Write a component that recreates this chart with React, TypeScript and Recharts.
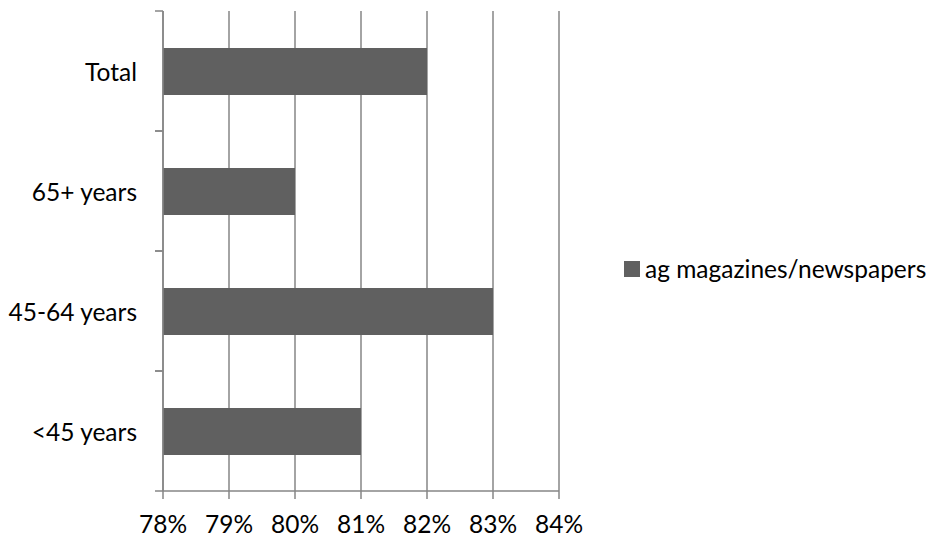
import { Bar, BarChart, CartesianGrid, Legend, XAxis, YAxis } from "recharts";

const categories = ["Total", "65+ years", "45-64 years", "<45 years"];
const agMedia = [82, 80, 83, 81];
const xTicks = [78, 79, 80, 81, 82, 83, 84];
const seriesName = "ag magazines/newspapers";

const data = categories.map((c, i) => ({ c, v: agMedia[i] }));

const W = 933;
const H = 538;
const M = { top: 11, right: 374, bottom: 0, left: 0 };
const X_H = 47;
const band = (H - M.top - X_H) / categories.length;
const FONT = "Lato, 'Open Sans', sans-serif";
const FS = 24.5;
const AXIS = "#868686";
const BAR = "#606060";

const CatTick = (p: any) => {
  const ax = p.x + 26;
  return (
    <g>
      <line x1={ax - 8} x2={ax} y1={p.y - band / 2} y2={p.y - band / 2} stroke={AXIS} strokeWidth={1.5} />
      <line x1={ax - 8} x2={ax} y1={p.y + band / 2} y2={p.y + band / 2} stroke={AXIS} strokeWidth={1.5} />
      <text x={p.x} y={p.y} textAnchor="end" dominantBaseline="central" fontSize={FS} fontFamily={FONT} fill="#000">
        {p.payload.value}
      </text>
    </g>
  );
};

const LegendBox = () => (
  <div style={{ display: "flex", alignItems: "center", fontFamily: FONT, fontSize: FS, color: "#000", whiteSpace: "nowrap" }}>
    <span style={{ width: 16, height: 16, background: BAR, marginRight: 5, display: "inline-block" }} />
    {seriesName}
  </div>
);

export default function App() {
  return (
    <div style={{ position: "absolute", left: 0, top: 0, background: "#fff" }}>
      <BarChart width={W} height={H} data={data} layout="vertical" margin={M}>
        <CartesianGrid horizontal={false} stroke={AXIS} strokeWidth={1.5} />
        <XAxis
          type="number"
          domain={[78, 84]}
          ticks={xTicks}
          tickFormatter={(v) => `${v}%`}
          stroke={AXIS}
          strokeWidth={1.5}
          height={X_H}
          tickSize={8}
          tickMargin={17}
          tick={{ fill: "#000", fontSize: FS, fontFamily: FONT }}
          interval={0}
        />
        <YAxis
          type="category"
          dataKey="c"
          width={163}
          stroke={AXIS}
          strokeWidth={1.5}
          tickLine={false}
          tickSize={8}
          tickMargin={18}
          tick={<CatTick />}
          interval={0}
        />
        <Legend
          layout="vertical"
          align="center"
          verticalAlign="middle"
          wrapperStyle={{ left: 624, top: 254, width: "auto" }}
          content={<LegendBox />}
        />
        <Bar dataKey="v" name={seriesName} fill={BAR} barSize={47} isAnimationActive={false} />
      </BarChart>
    </div>
  );
}
